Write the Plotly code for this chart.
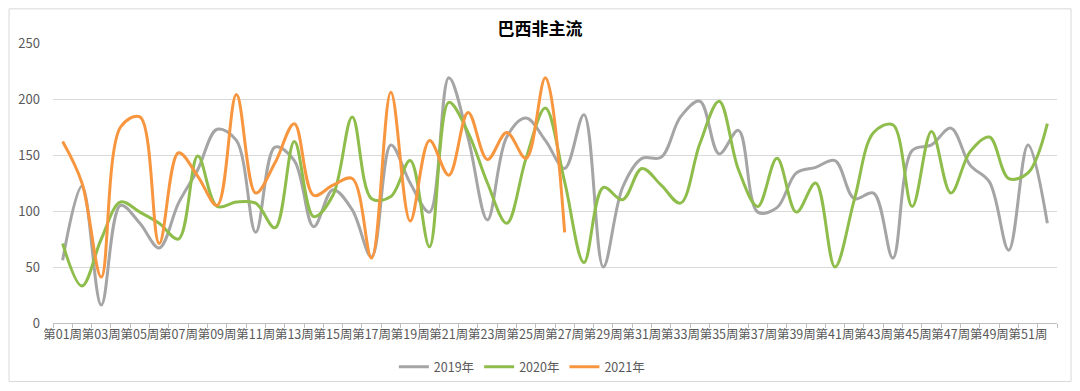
import plotly.graph_objects as go

weeks = ["第%02d周" % i for i in range(1, 53)]
tick_text = [w if i % 2 == 0 else "" for i, w in enumerate(weeks)]

y2019 = [56, 122, 16, 105, 89, 67, 107, 137, 173, 163, 81, 157, 145, 86, 119, 101,
         59, 159, 125, 99, 219, 165, 92, 166, 183, 163, 138, 186, 50, 121, 147, 148,
         184, 198, 151, 172, 99, 103, 134, 139, 145, 111, 116, 58, 154, 159, 174, 141,
         126, 65, 159, 89]
y2020 = [71, 33, 75, 108, 99, 89, 75, 149, 104, 108, 107, 85, 162, 95, 114, 184,
         111, 113, 145, 68, 197, 170, 125, 89, 147, 192, 126, 54, 121, 110, 138, 123,
         107, 160, 198, 137, 104, 147, 99, 125, 50, 110, 170, 177, 104, 171, 116, 153,
         166, 129, 134, 178]
y2021 = [162, 125, 41, 175, 184, 71, 152, 131, 105, 204, 116, 143, 178, 114, 123, 129,
         58, 206, 91, 163, 132, 188, 146, 170, 147, 219, 81]

series = [
    ("2019年", y2019, "#a5a5a5"),
    ("2020年", y2020, "#8fbd4c"),
    ("2021年", y2021, "#f8963f"),
]

fig = go.Figure()
for name, vals, color in series:
    fig.add_trace(go.Scatter(
        x=weeks[:len(vals)], y=vals, name=name, mode="lines",
        line=dict(color=color, width=3, shape="spline", smoothing=1.0),
    ))

font_family = "Noto Sans CJK SC, Microsoft YaHei, sans-serif"

fig.update_layout(
    width=1064, height=375,
    margin=dict(l=45, r=15, t=35, b=60, autoexpand=False),
    paper_bgcolor="white", plot_bgcolor="white",
    font=dict(family=font_family, color="#595959", size=12),
    title=dict(text="<b>巴西非主流</b>", x=0.5, xanchor="center",
               y=1 - 21 / 375, yanchor="middle",
               font=dict(size=17, color="#000000", family=font_family)),
    showlegend=True,
    legend=dict(orientation="h", x=0.467, xanchor="center",
                yref="container", y=1 - 359 / 375, yanchor="middle",
                font=dict(size=12.5, color="#595959"), itemwidth=30,
                bgcolor="rgba(0,0,0,0)"),
    xaxis=dict(type="category", categoryorder="array", categoryarray=weeks,
               tickmode="array", tickvals=weeks, ticktext=tick_text,
               tickson="boundaries", ticks="outside", ticklen=4, tickcolor="#bfbfbf",
               tickangle=0, tickfont=dict(size=12.5, color="#595959"),
               showline=True, linecolor="#bfbfbf", linewidth=1, automargin=False,
               showgrid=False, range=[-0.5, 51.5], fixedrange=True),
    yaxis=dict(range=[0, 250], dtick=50, showgrid=True, gridcolor="#d9d9d9",
               gridwidth=1, zeroline=False, showline=False, automargin=False,
               tickfont=dict(size=13, color="#595959"), ticklabelstandoff=12),
    shapes=[dict(type="rect", xref="paper", yref="paper",
                 x0=-0.0438, x1=1.014, y0=-0.209, y1=1.122,
                 line=dict(color="#d9d9d9", width=1), fillcolor="rgba(0,0,0,0)",
                 layer="below")],
)

fig.write_html("out.html")
